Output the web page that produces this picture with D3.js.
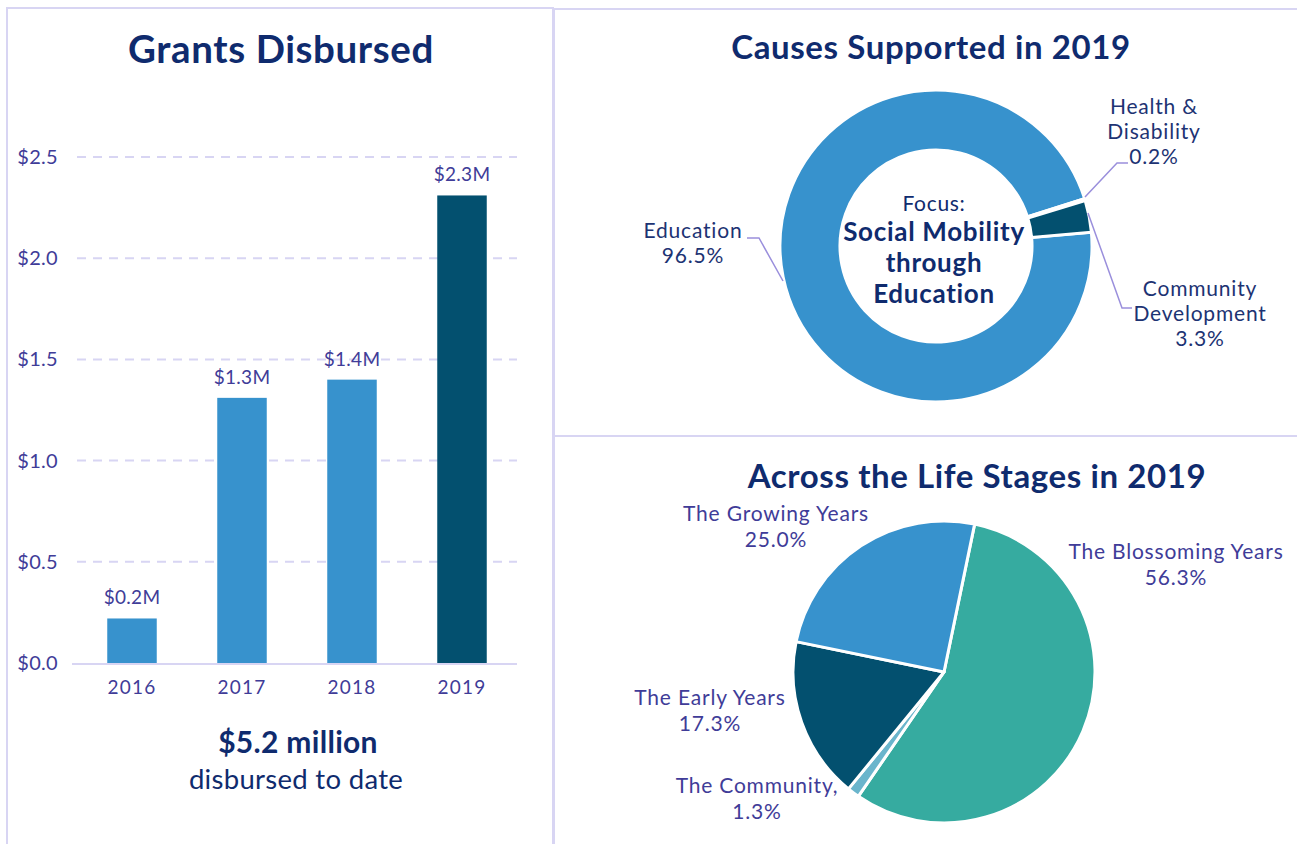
<!DOCTYPE html>
<html>
<head>
<meta charset="utf-8">
<script src="https://cdn.jsdelivr.net/npm/d3@7"></script>
<style>
  body { margin: 0; background: #fff; font-family: Lato, "Open Sans", sans-serif; }
  svg { display: block; }
</style>
</head>
<body>
<svg id="chart" width="1297" height="844"></svg>
<script>
// ---- data ----
let years = ["2016", "2017", "2018", "2019"];
let grants = [0.22, 1.31, 1.40, 2.31];
let grantLabels = ["$0.2M", "$1.3M", "$1.4M", "$2.3M"];
let yTicks = [0, 0.5, 1.0, 1.5, 2.0, 2.5];

let causes = ["Education", "Health & Disability", "Community Development"];
let causeShares = [96.5, 0.2, 3.3];

let stages = ["The Blossoming Years", "The Community,", "The Early Years", "The Growing Years"];
let stageShares = [56.3, 1.3, 17.3, 25.0];

// ---- colours ----
let navy = "#0f2b6e";
let purple = "#403c98";
let lavender = "#d8d5f3";
let leader = "#9a8fdc";

let svg = d3.select("#chart");

// panel borders
function panel(x, y, w, h) {
  svg.append("rect")
    .attr("x", x).attr("y", y).attr("width", w).attr("height", h)
    .attr("fill", "none").attr("stroke", lavender).attr("stroke-width", 2);
}
panel(7, 8, 546, 850);
panel(554, 9, 760, 427);
panel(554, 436, 760, 420);

function title(text, x, y, size) {
  svg.append("text")
    .attr("x", x).attr("y", y)
    .attr("text-anchor", "middle")
    .attr("font-weight", 700)
    .attr("font-size", size)
    .attr("letter-spacing", 0.6)
    .attr("fill", navy)
    .text(text);
}

////////////////////////////////////////////////////////////////////////
// Bar chart
title("Grants Disbursed", 281, 63, 38.5);

let xBand = d3.scaleBand().domain(years).range([77, 517])
  .paddingInner(0.55).paddingOuter(0.275);
let yLin = d3.scaleLinear().domain([0, 2.5]).range([663, 157]);

// dashed grid
svg.append("g")
  .selectAll("line")
  .data(yTicks.filter(d => d > 0))
  .enter()
  .append("line")
  .attr("x1", 77).attr("x2", 517)
  .attr("y1", d => yLin(d)).attr("y2", d => yLin(d))
  .attr("stroke", lavender)
  .attr("stroke-width", 2)
  .attr("stroke-dasharray", "9,7");

let yAxis = svg.append("g")
  .attr("transform", "translate(77,0)")
  .call(d3.axisLeft(yLin).tickValues(yTicks).tickSize(0).tickPadding(19)
    .tickFormat(d => "$" + d3.format(".1f")(d)));
yAxis.select(".domain").remove();
yAxis.selectAll("text")
  .attr("font-family", "Lato, sans-serif")
  .attr("font-size", 20)
  .attr("letter-spacing", 0.3)
  .attr("fill", purple);

svg.append("g")
  .selectAll("rect")
  .data(grants)
  .enter()
  .append("rect")
  .attr("x", (d, i) => xBand(years[i]))
  .attr("y", d => yLin(d))
  .attr("width", xBand.bandwidth())
  .attr("height", d => yLin(0) - yLin(d))
  .attr("fill", (d, i) => i === 3 ? "#03506f" : "#3792cd");

// baseline
svg.append("line")
  .attr("x1", 72).attr("x2", 517)
  .attr("y1", yLin(0) + 1).attr("y2", yLin(0) + 1)
  .attr("stroke", lavender).attr("stroke-width", 2);

svg.append("g")
  .selectAll("text")
  .data(grants)
  .enter()
  .append("text")
  .attr("x", (d, i) => xBand(years[i]) + xBand.bandwidth() / 2)
  .attr("y", d => yLin(d) - 14)
  .attr("text-anchor", "middle")
  .attr("font-size", 19)
  .attr("letter-spacing", 0.3)
  .attr("fill", purple)
  .text((d, i) => grantLabels[i]);

let xAxis = svg.append("g")
  .attr("transform", "translate(0," + yLin(0) + ")")
  .call(d3.axisBottom(xBand).tickSize(0).tickPadding(18));
xAxis.select(".domain").remove();
xAxis.selectAll("text")
  .attr("font-family", "Lato, sans-serif")
  .attr("font-size", 19)
  .attr("letter-spacing", 1.2)
  .attr("fill", purple);

svg.append("text")
  .attr("x", 298).attr("y", 753)
  .attr("text-anchor", "middle")
  .attr("font-weight", 700).attr("font-size", 30)
  .attr("letter-spacing", 0.3)
  .attr("fill", navy)
  .text("$5.2 million");
svg.append("text")
  .attr("x", 296).attr("y", 789)
  .attr("text-anchor", "middle")
  .attr("font-size", 27.5)
  .attr("letter-spacing", 0.3)
  .attr("fill", navy)
  .text("disbursed to date");

////////////////////////////////////////////////////////////////////////
// Donut
title("Causes Supported in 2019", 931, 59, 33);

let dcx = 936, dcy = 246;
let donutColors = ["#3792cd", "#3792cd", "#03506f"];
let donutPie = d3.pie().sort(null)
  .startAngle(84.9 * Math.PI / 180)
  .endAngle(84.9 * Math.PI / 180 + 2 * Math.PI);
let donutArc = d3.arc().innerRadius(96).outerRadius(156);

let donutG = svg.append("g").attr("transform", `translate(${dcx},${dcy})`);
donutG.selectAll("path")
  .data(donutPie(causeShares))
  .enter()
  .append("path")
  .attr("d", donutArc)
  .attr("fill", (d, i) => donutColors[i])
  .attr("stroke", "#fff")
  .attr("stroke-width", 3);

let centerLines = [
  { t: "Focus:", y: 211, w: 400, s: 21 },
  { t: "Social Mobility", y: 241, w: 700, s: 26 },
  { t: "through", y: 272, w: 700, s: 26 },
  { t: "Education", y: 303, w: 700, s: 26 }
];
svg.append("g")
  .selectAll("text")
  .data(centerLines)
  .enter()
  .append("text")
  .attr("x", 934).attr("y", d => d.y)
  .attr("text-anchor", "middle")
  .attr("font-weight", d => d.w)
  .attr("font-size", d => d.s)
  .attr("letter-spacing", 0.7)
  .attr("fill", navy)
  .text(d => d.t);

let donutLabels = [
  { lines: ["Education", "96.5%"], x: 693, y: 238, line: [[747, 238], [759, 238], [783, 281]] },
  { lines: ["Health &", "Disability", "0.2%"], x: 1154, y: 114, line: [[1128, 163], [1117, 163], [1085, 197]] },
  { lines: ["Community", "Development", "3.3%"], x: 1200, y: 296, line: [[1132, 308], [1122, 308], [1088, 213]] }
];
donutLabels.forEach(function(lab) {
  svg.append("path")
    .attr("d", d3.line()(lab.line))
    .attr("fill", "none")
    .attr("stroke", leader)
    .attr("stroke-width", 1.5);
  let t = svg.append("text")
    .attr("text-anchor", "middle")
    .attr("font-size", 21)
    .attr("letter-spacing", 0.8)
    .attr("fill", "#1d3373");
  lab.lines.forEach(function(l, i) {
    t.append("tspan").attr("x", lab.x).attr("y", lab.y + i * 25).text(l);
  });
});

////////////////////////////////////////////////////////////////////////
// Pie
title("Across the Life Stages in 2019", 977, 488, 33);

let pcx = 944, pcy = 672;
let pieColors = ["#36aba0", "#6ab5cc", "#03506f", "#3792cd"];
let stagePie = d3.pie().sort(null)
  .startAngle(11.7 * Math.PI / 180)
  .endAngle(11.7 * Math.PI / 180 + 2 * Math.PI);
let pieArc = d3.arc().innerRadius(0).outerRadius(151);

let pieG = svg.append("g").attr("transform", `translate(${pcx},${pcy})`);
pieG.selectAll("path")
  .data(stagePie(stageShares))
  .enter()
  .append("path")
  .attr("d", pieArc)
  .attr("fill", (d, i) => pieColors[i])
  .attr("stroke", "#fff")
  .attr("stroke-width", 3)
  .attr("stroke-linejoin", "round");

let pieLabelPos = [
  { x: 1176, y: 559 },
  { x: 757, y: 793 },
  { x: 710, y: 705 },
  { x: 776, y: 521 }
];
stages.forEach(function(name, i) {
  let t = svg.append("text")
    .attr("text-anchor", "middle")
    .attr("font-size", 21)
    .attr("letter-spacing", 0.8)
    .attr("fill", purple);
  t.append("tspan").attr("x", pieLabelPos[i].x).attr("y", pieLabelPos[i].y).text(name);
  t.append("tspan").attr("x", pieLabelPos[i].x).attr("y", pieLabelPos[i].y + 26)
    .text(d3.format(".1f")(stageShares[i]) + "%");
});
</script>
</body>
</html>
